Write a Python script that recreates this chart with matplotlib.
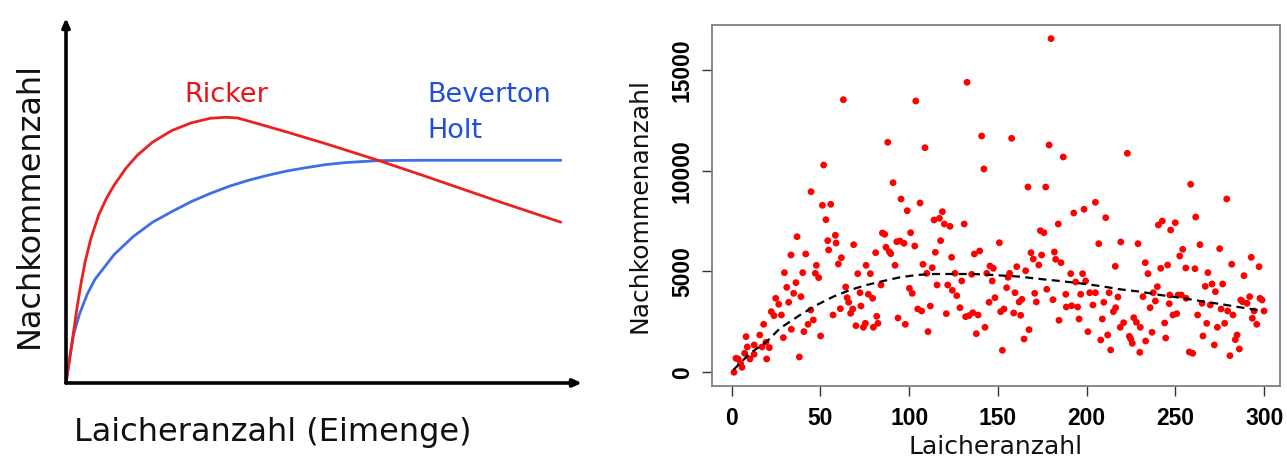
import matplotlib
matplotlib.use("Agg")
import matplotlib.pyplot as plt
import numpy as np

# ---------------- data ----------------
# Left panel: conceptual curves (fraction of axis length)
ricker_x = [0.0, 0.0075, 0.0149, 0.0224, 0.0299, 0.0373, 0.0485, 0.0634, 0.0784, 0.0933,
            0.1157, 0.1381, 0.1679, 0.2052, 0.2425, 0.2799, 0.3097, 0.3321, 0.3619, 0.4291,
            0.5037, 0.6045, 0.6903, 0.7649, 0.8396, 0.9590]
ricker_y = [0.0, 0.0707, 0.1432, 0.2158, 0.2792, 0.3336, 0.3971, 0.4605, 0.5059, 0.5421,
            0.5875, 0.6238, 0.6600, 0.6917, 0.7126, 0.7253, 0.7280, 0.7262, 0.7144, 0.6872,
            0.6555, 0.6102, 0.5694, 0.5331, 0.4968, 0.4406]
bh_x = [0.0, 0.0075, 0.0149, 0.0261, 0.0410, 0.0560, 0.0784, 0.0933, 0.1306, 0.1679,
        0.2052, 0.2425, 0.2799, 0.3172, 0.3545, 0.3918, 0.4291, 0.4664, 0.5037, 0.5410,
        0.6045, 0.6903, 0.9590]
bh_y = [0.0, 0.0707, 0.1342, 0.1886, 0.2430, 0.2838, 0.3246, 0.3518, 0.4016, 0.4406,
        0.4696, 0.4968, 0.5195, 0.5394, 0.5557, 0.5693, 0.5811, 0.5902, 0.5984, 0.6038,
        0.6093, 0.6102, 0.6102]

# Right panel: observed spawners vs. recruits
laicher = [
    36.8, 33.4, 41.7, 29.7, 40.0, 36.2, 31.0, 34.9, 39.0, 24.8, 32.1, 26.5, 22.3, 23.8, 28.0,
    18.0, 33.6, 40.7, 29.1, 8.1, 15.8, 12.7, 8.8, 17.1, 21.2, 19.3, 12.6, 7.3, 10.3, 3.6,
    19.7, 5.0, 38.1, 5.8, 1.3, 2.4,
    62.9, 87.9, 51.8, 90.9, 44.7, 95.4, 51.1, 55.8, 53.1, 54.1, 58.4, 58.8, 54.6, 68.7, 84.9,
    86.2, 86.9, 88.8, 89.6, 93.0, 94.8, 81.1, 61.8, 60.1, 47.7, 47.1, 49.0, 75.7, 71.0, 78.1,
    92.0, 84.1, 64.2, 65.0, 65.9, 72.3, 77.0, 79.4, 72.8, 68.2, 67.0, 61.2, 44.5, 57.1, 46.0,
    43.0, 50.1, 70.0, 74.2, 75.3, 79.8, 82.4, 81.7, 93.7,
    132.6, 103.7, 140.8, 108.9, 142.1, 106.1, 98.9, 118.7, 114.0, 117.0, 119.8, 123.0, 131.0,
    100.8, 97.1, 117.7, 103.1, 114.7, 136.7, 139.7, 123.9, 107.8, 113.0, 109.9, 145.5, 147.4,
    125.8, 135.2, 143.7, 129.6, 146.8, 115.7, 121.7, 100.1, 101.7, 124.3, 126.8, 148.3, 145.0,
    111.9, 104.8, 107.0, 128.6, 120.9, 97.8, 131.8, 133.7, 135.8, 138.8, 110.6, 137.8, 142.7,
    179.9, 157.7, 178.8, 186.8, 166.9, 176.9, 192.7, 198.5, 184.0, 173.9, 175.9, 150.8, 168.6,
    169.9, 174.6, 181.8, 182.5, 185.5, 173.0, 160.6, 165.6, 156.6, 155.7, 191.0, 197.7, 154.9,
    193.8, 199.4, 177.5, 159.6, 170.7, 163.5, 161.9, 171.6, 181.0, 188.2, 196.6, 188.5, 191.5,
    194.9, 151.5, 153.4, 158.9, 162.8, 184.4, 195.7, 167.5, 164.7, 200.7, 152.5,
    222.9, 204.9, 210.7, 206.8, 219.2, 228.9, 240.4, 242.6, 247.3, 249.9, 254.1, 252.4, 233.0,
    234.5, 216.1, 241.7, 245.6, 201.7, 204.9, 203.5, 212.6, 209.6, 217.6, 215.0, 216.3, 208.8,
    220.8, 218.9, 226.5, 228.0, 230.2, 211.8, 207.9, 224.0, 224.8, 225.7, 213.5, 229.9, 233.2,
    236.8, 235.7, 238.7, 239.8, 237.5, 231.7, 243.9, 244.5, 246.5, 246.8, 248.6, 250.7, 251.5,
    253.3,
    258.6, 278.9, 261.4, 263.8, 274.9, 255.8, 261.0, 281.7, 292.7, 297.1, 268.3, 288.6, 266.8,
    270.6, 276.6, 272.5, 256.0, 265.0, 269.6, 275.7, 279.4, 282.4, 286.8, 287.7, 290.3, 291.8,
    297.6, 298.8, 294.3, 299.9, 293.3, 295.8, 262.5, 267.6, 273.6, 277.7, 265.5, 284.7, 283.7,
    271.9, 286.0, 257.8, 259.7, 280.7,
]
nachkommen = [
    6726, 5818, 5868, 4942, 4942, 4446, 4214, 3918, 3752, 3670, 3472, 3373, 3008, 2810, 2842,
    2380, 2132, 2017, 1719, 1769, 1851, 1356, 1257, 1257, 1224, 1488, 893, 942, 661, 661,
    661, 446, 760, 248, 0, 694,
    13521, 11408, 10282, 9404, 8958, 8596, 8283, 8333, 7570, 6528, 6795, 6413, 6066, 6329, 6909,
    6845, 6200, 5982, 5883, 6478, 6512, 5932, 5684, 5372, 5307, 4910, 4692, 5307, 4891, 4891,
    5307, 4330, 4231, 3700, 3472, 3948, 3869, 3670, 3288, 3140, 2926, 3155, 3090, 2842, 2594,
    2380, 1802, 2312, 2232, 2430, 2232, 2430, 2777, 2694,
    14384, 13456, 11720, 11140, 10084, 8397, 8015, 7966, 7554, 7638, 7356, 7241, 7356,
    6924, 6398, 6528, 6264, 5952, 5868, 6016, 5704, 5357, 5188, 4910, 5272, 5158,
    4910, 4861, 4910, 4528, 4528, 4330, 4330, 4166, 3918, 4067, 3800, 3700, 3472,
    3288, 3140, 3040, 3204, 2907, 2380, 2758, 2810, 2956, 2842, 2017, 1916, 2232,
    16549, 11606, 11275, 10679, 9191, 9191, 7901, 8085, 7356, 7023, 6924, 6428, 5932,
    5620, 5818, 5967, 5605, 5436, 5322, 5238, 5039, 4910, 4712, 4891, 4891, 4196,
    4479, 4528, 4117, 3948, 3918, 3621, 3487, 3487, 3601, 3869, 3869, 3239, 3300,
    3239, 3006, 3140, 2941, 2827, 2579, 2644, 2113, 1652, 2014, 1091,
    10862, 8432, 7668, 6379, 6463, 6379, 7306, 7504, 7058, 7421, 6100, 5768, 5436,
    4891, 5257, 5158, 5322, 3948, 3948, 3338, 3948, 3472, 3735, 3006, 3204, 2644,
    2460, 2232, 2708, 2480, 2232, 1850, 1602, 1785, 1652, 1438, 1106, 992, 1553,
    1984, 3204, 3537, 4246, 3948, 3752, 2445, 1701, 3403, 3834, 2842, 2907, 3834,
    3834,
    9325, 8596, 7703, 6329, 6131, 5173, 5139, 5357, 5704, 5238, 4942, 4793, 4264,
    4380, 4380, 3998, 3670, 3422, 3338, 3140, 3040, 2842, 3586, 3505, 3422, 3750,
    3670, 3586, 3040, 3040, 2678, 2380, 2842, 2430, 2232, 2430, 1800, 1850, 1617,
    1356, 1156, 1007, 942, 823,
]

# fitted (dashed) curve
fit_x = [0.9, 10.3, 19.7, 27.2, 38.5, 47.9, 57.2, 66.6, 76.0, 85.4, 94.8, 104.2, 113.6,
         124.8, 136.1, 147.4, 162.4, 173.7, 185.0, 196.2, 207.5, 218.8, 230.1, 241.3,
         252.6, 263.9, 275.1, 286.4, 299.5]
fit_y = [114, 942, 1518, 2182, 2842, 3338, 3750, 4082, 4330, 4528, 4712, 4826, 4876,
         4876, 4876, 4826, 4743, 4628, 4528, 4413, 4280, 4116, 3998, 3834,
         3700, 3536, 3388, 3224, 3040]

x_ticks = [0, 50, 100, 150, 200, 250, 300]
y_ticks = [0, 5000, 10000, 15000]

# ---------------- figure ----------------
W, H = 1287, 461
fig = plt.figure(figsize=(W / 100, H / 100), dpi=100)

RED = "#ee1f1f"
BLUE = "#3d6fe6"

# Left conceptual panel
ax1 = fig.add_axes([66 / W, 1 - 383 / H, (582 - 66) / W, (383 - 18) / H])
ax1.set_xlim(0, 1)
ax1.set_ylim(0, 1)
ax1.axis("off")
ax1.plot(bh_x, bh_y, color=BLUE, lw=2.0, solid_capstyle="round",
         solid_joinstyle="round", clip_on=False)
ax1.plot(ricker_x, ricker_y, color=RED, lw=2.0, solid_capstyle="round",
         solid_joinstyle="round", clip_on=False)
arrow = dict(arrowstyle="-|>,head_length=0.5,head_width=0.22", lw=2.6, color="black",
             shrinkA=0, shrinkB=0)
ax1.annotate("", xy=(1, 0), xytext=(0, 0), xycoords="axes fraction", arrowprops=arrow)
ax1.annotate("", xy=(0, 1), xytext=(0, 0), xycoords="axes fraction", arrowprops=arrow)
ax1.text(0.31, 0.789, "Ricker", color="#e8141a", fontsize=19.5, ha="center", va="center",
         transform=ax1.transAxes)
ax1.text(0.70, 0.789, "Beverton", color="#2050d8", fontsize=19.5, ha="left", va="center",
         transform=ax1.transAxes)
ax1.text(0.70, 0.69, "Holt", color="#2050d8", fontsize=19.5, ha="left", va="center",
         transform=ax1.transAxes)
fig.text(29 / W, 1 - 205 / H, "Nachkommenzahl", rotation=90, fontsize=23,
         ha="center", va="center", color="#111111")
fig.text(273 / W, 1 - 432 / H, "Laicheranzahl (Eimenge)", fontsize=23,
         ha="center", va="center", color="#111111")

# Right data panel
ax2 = fig.add_axes([712 / W, 1 - 386 / H, (1280 - 712) / W, (386 - 25) / H])
ax2.scatter(laicher, nachkommen, s=24, color="#ff0000", edgecolors="none", zorder=2)
ax2.plot(fit_x, fit_y, color="black", lw=1.6, dashes=(3.6, 2.4), zorder=3)
ax2.set_xlim(-11.1, 308.9)
ax2.set_ylim(-680, 17226)
ax2.set_xticks(x_ticks)
ax2.set_yticks(y_ticks)
for sp in ax2.spines.values():
    sp.set_color("#7f7f7f")
    sp.set_linewidth(1.3)
ax2.tick_params(axis="both", direction="out", length=7, width=1.0, color="#333333",
                labelsize=16.5)
ax2.set_xticklabels([str(t) for t in x_ticks], fontweight="bold",
                    fontfamily="Liberation Sans")
ax2.set_yticklabels([str(t) for t in y_ticks], fontweight="bold", rotation=90,
                    va="center", fontfamily="Liberation Sans")
ax2.tick_params(axis="x", pad=8)
ax2.tick_params(axis="y", pad=6)
ax2.set_xlabel("Laicheranzahl", fontsize=18, labelpad=4, color="#111111")
ax2.set_ylabel("Nachkommenanzahl", fontsize=18, labelpad=14, color="#111111")

fig.savefig("out.png", dpi=100)
